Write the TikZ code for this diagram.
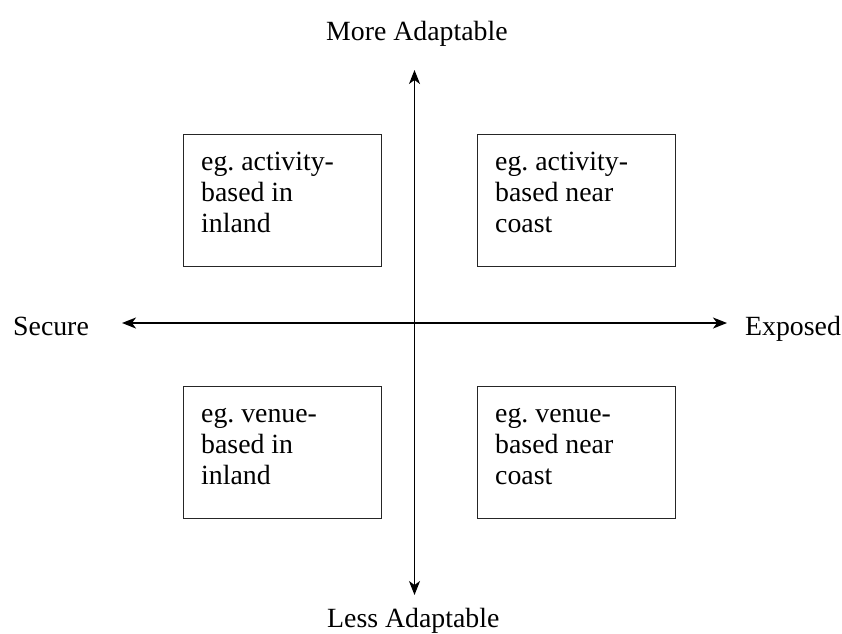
\documentclass[tikz,border=0pt]{standalone}
\usepackage{fontspec}
\setmainfont{Liberation Serif}
\usetikzlibrary{arrows.meta,calc}
\begin{document}
\frenchspacing
\begin{tikzpicture}[x=1pt,y=1pt,
  quad/.style={draw=black!85,line width=1pt,rectangle,minimum width=198pt,minimum height=132pt,inner sep=0pt,anchor=north west},
  quadtext/.style={anchor=north west,inner sep=0pt,align=left,font=\fontsize{27.8}{31}\selectfont},
  axislabel/.style={anchor=base west,inner sep=0pt,font=\fontsize{27.8}{31}\selectfont},
  axis/.style={line width=1.6pt,{Stealth[length=14pt,width=11pt,inset=4pt]}-{Stealth[length=14pt,width=11pt,inset=4pt]}}]
\useasboundingbox[fill=white] (0,0) rectangle (842,-633);
% axes
\coordinate (top) at (414.5,-70);
\coordinate (bot) at (414.5,-595);
\coordinate (lft) at (122,-323);
\coordinate (rgt) at (727,-323);
\draw[axis] (bot) -- (top);
\draw[axis] (lft) -- (rgt);
% axis labels
\node[axislabel] (more) at (326,-40) {More Adaptable};
\node[axislabel] (less) at (327,-627) {Less Adaptable};
\node[axislabel] (secure) at (13,-335) {Secure};
\node[axislabel] (exposed) at (745,-335) {Exposed};
% quadrant boxes
\node[quad] (tl) at (183,-134) {};
\node[quad] (tr) at (477,-134) {};
\node[quad] (bl) at (183,-386) {};
\node[quad] (br) at (477,-386) {};
\node[quadtext] (tltext) at ($(tl.north west)+(18,-14.3)$) {\strut eg. activity-\\based in\\inland};
\node[quadtext] (trtext) at ($(tr.north west)+(18,-14.3)$) {\strut eg. activity-\\based near\\coast};
\node[quadtext] (bltext) at ($(bl.north west)+(18,-14.3)$) {\strut eg. venue-\\based in\\inland};
\node[quadtext] (brtext) at ($(br.north west)+(18,-14.3)$) {\strut eg. venue-\\based near\\coast};
\end{tikzpicture}
\end{document}
